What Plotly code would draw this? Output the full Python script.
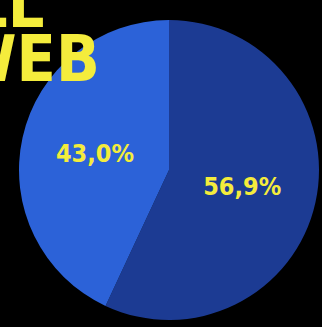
import plotly.graph_objects as go

labels = ["Dark", "Light"]
values = [56.9, 43.0]
text_labels = ["56,9%", "43,0%"]
colors = ["#1c3b93", "#2c62d8"]

W, H = 322, 327
cx, cy, r = 169, 170, 150

fig = go.Figure(go.Pie(
    labels=labels,
    values=values,
    sort=False,
    direction="clockwise",
    rotation=0,
    marker=dict(colors=colors, line=dict(width=0)),
    text=text_labels,
    textinfo="text",
    textposition="inside",
    insidetextorientation="horizontal",
    textfont=dict(family="DejaVu Sans Condensed", size=25, color="#f4ec3c", weight="bold"),
    domain=dict(x=[(cx - r) / W, (cx + r) / W], y=[(H - cy - r) / H, (H - cy + r) / H]),
    showlegend=False,
    hoverinfo="skip",
))

title_font = dict(family="DejaVu Sans Condensed", size=64, color="#f4ec3c", weight="bold")
fig.add_annotation(text="LL", x=46 / W, y=1 - 5 / H, xref="paper", yref="paper",
                   xanchor="right", yanchor="middle", showarrow=False, font=title_font)
fig.add_annotation(text="WEB", x=102 / W, y=1 - 59 / H, xref="paper", yref="paper",
                   xanchor="right", yanchor="middle", showarrow=False, font=title_font)

fig.update_layout(
    width=W, height=H,
    margin=dict(l=0, r=0, t=0, b=0),
    paper_bgcolor="#000000",
    plot_bgcolor="#000000",
)
fig.write_html("out.html")
